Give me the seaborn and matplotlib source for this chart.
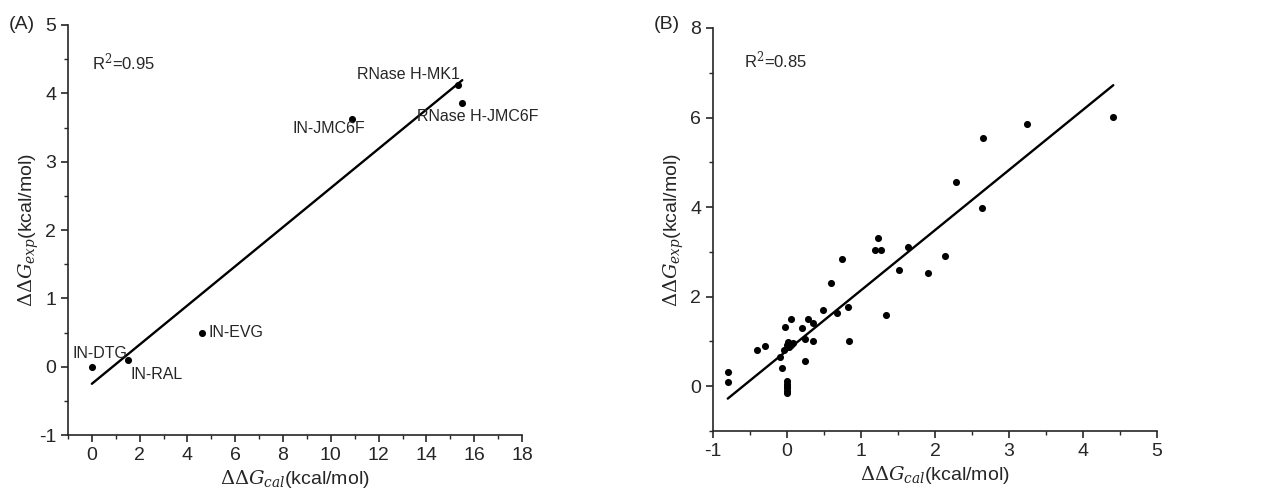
import numpy as np
import pandas as pd
import matplotlib
matplotlib.use('Agg')
import matplotlib.pyplot as plt
import seaborn as sns
from matplotlib.ticker import MultipleLocator

# ---- Panel A data ----
a_names = ['IN-DTG', 'IN-RAL', 'IN-EVG', 'IN-JMC6F', 'RNase H-MK1', 'RNase H-JMC6F']
a_cal = [0.0, 1.5, 4.6, 10.9, 15.3, 15.5]
a_exp = [0.0, 0.1, 0.5, 3.62, 4.12, 3.86]
# label anchor (x, y, ha) for each point name
a_lab_x = [-0.8, 1.6, 4.9, 9.9, 15.4, 13.6]
a_lab_y = [0.2, -0.12, 0.5, 3.49, 4.27, 3.66]
a_lab_ha = ['left', 'left', 'left', 'center', 'right', 'left']

# ---- Panel B data ----
b_cal = [-0.80, -0.79, -0.40, -0.29, -0.09, -0.07, -0.04, -0.03,
         0.0, 0.0, 0.0, 0.0, 0.0, 0.0,
         0.0, 0.02, 0.05, 0.08, 0.03, 0.06,
         0.20, 0.28, 0.35, 0.24, 0.35, 0.24,
         0.49, 0.59, 0.68, 0.74, 0.82, 0.84,
         1.19, 1.23, 1.27, 1.34, 1.52, 1.64, 1.91, 2.13,
         2.28, 2.63, 2.65, 3.25, 4.41]
b_exp = [0.10, 0.31, 0.80, 0.90, 0.65, 0.40, 0.80, 1.33,
         0.12, 0.06, 0.0, -0.05, -0.10, -0.15,
         0.93, 0.98, 0.92, 0.97, 0.88, 1.50,
         1.29, 1.50, 1.42, 1.05, 1.02, 0.56,
         1.70, 2.31, 1.64, 2.85, 1.78, 1.00,
         3.05, 3.32, 3.05, 1.58, 2.60, 3.10, 2.53, 2.90,
         4.55, 3.98, 5.54, 5.86, 6.02]

sns.set_style('ticks')
plt.rcParams['font.family'] = ['Liberation Sans', 'DejaVu Sans']
plt.rcParams['mathtext.fontset'] = 'dejavuserif'
plt.rcParams['axes.unicode_minus'] = False

fig = plt.figure(figsize=(12.77, 4.97), dpi=100)
axA = fig.add_axes([0.0532, 0.1247, 0.3556, 0.8250])
axB = fig.add_axes([0.5583, 0.1328, 0.3477, 0.8109])

df_a = pd.DataFrame({'cal': a_cal, 'exp': a_exp})
df_b = pd.DataFrame({'cal': b_cal, 'exp': b_exp})

for ax, df in [(axA, df_a), (axB, df_b)]:
    sns.regplot(data=df, x='cal', y='exp', ax=ax, ci=None, truncate=True,
                color='black', scatter_kws={'s': 26, 'linewidths': 0, 'alpha': 1},
                line_kws={'linewidth': 1.7})

# Panel A styling
axA.set_xlim(-1, 18)
axA.set_ylim(-1, 5)
axA.xaxis.set_major_locator(MultipleLocator(2))
axA.xaxis.set_minor_locator(MultipleLocator(1))
axA.yaxis.set_major_locator(MultipleLocator(1))
axA.yaxis.set_minor_locator(MultipleLocator(0.5))
for name, lx, ly, ha in zip(a_names, a_lab_x, a_lab_y, a_lab_ha):
    axA.text(lx, ly, name, ha=ha, va='center', fontsize=11.5)
axA.text(0.0, 4.46, 'R$^2$=0.95', fontsize=12, va='center')

# Panel B styling
axB.set_xlim(-1, 5)
axB.set_ylim(-1, 8)
axB.xaxis.set_major_locator(MultipleLocator(1))
axB.xaxis.set_minor_locator(MultipleLocator(0.5))
axB.yaxis.set_major_locator(MultipleLocator(2))
axB.yaxis.set_minor_locator(MultipleLocator(1))
axB.text(-0.58, 7.28, 'R$^2$=0.85', fontsize=12, va='center')

for ax in (axA, axB):
    sns.despine(ax=ax)
    ax.spines['left'].set_linewidth(1.2)
    ax.spines['bottom'].set_linewidth(1.2)
    ax.tick_params(which='major', direction='out', length=5, width=1.2, labelsize=14)
    ax.tick_params(which='minor', direction='out', length=3, width=1.0)
    ax.set_xlabel(r'$\Delta\Delta G_{cal}$(kcal/mol)', fontsize=14, labelpad=3)
    ax.set_ylabel(r'$\Delta\Delta G_{exp}$(kcal/mol)', fontsize=14)
    ax.yaxis.set_label_coords(-0.06, 0.5)

fig.text(0.007, 0.95, '(A)', fontsize=14, va='center')
fig.text(0.512, 0.95, '(B)', fontsize=14, va='center')

fig.savefig('out.png', dpi=100, facecolor='white')
